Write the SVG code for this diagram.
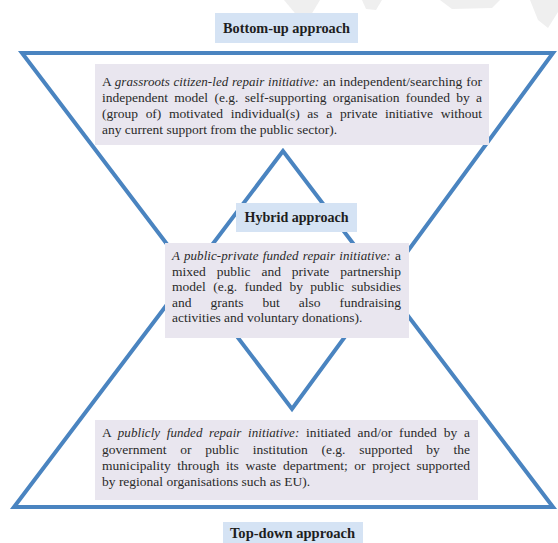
<svg xmlns="http://www.w3.org/2000/svg" width="558" height="543" viewBox="0 0 558 543">
<style>
.tri{fill:none;stroke:#4a84c0;stroke-width:4;stroke-linejoin:miter}
.box{fill:#e9e6ef}
.lab{fill:#d5e3f4}
.lt{font-family:"Liberation Serif",serif;font-weight:bold;font-size:14px;fill:#1e1e1e}
.bt{font-family:"Liberation Serif",serif;font-size:13.5px;fill:#2a2a2a}
.it{font-style:italic;font-size:13px}
.wm{fill:#efefef}
</style>
<rect width="558" height="543" fill="#ffffff"/>
<g id="watermark">
<path class="wm" d="M284,0 L320,0 L311,15 L299,18 Z"/>
<path class="wm" d="M362,0 L382,0 L376,10 L366,9 Z"/>
<path class="wm" d="M440,0 L500,0 L492,8 L452,9 Z"/>
<path class="wm" d="M530,0 L558,0 L558,12 L548,28 L538,20 Z"/>
</g>
<g id="connectors">
<polygon class="tri" points="22,53 553,53 292,409"/>
<polygon class="tri" points="283,151 14,507 553,507"/>
</g>
<g id="bottom-up-label">
<rect class="lab" x="215" y="13" width="143" height="30"/>
<text class="lt" x="286.5" y="33" text-anchor="middle" textLength="127" lengthAdjust="spacingAndGlyphs">Bottom-up approach</text>
</g>
<g id="grassroots">
<rect class="box" x="95" y="64" width="394" height="81"/>
<text class="bt" x="102" y="86" word-spacing="0.3" textLength="380" lengthAdjust="spacing">A <tspan class="it">grassroots citizen-led repair initiative:</tspan> an independent/searching for</text>
<text class="bt" x="102" y="102" word-spacing="2.9" textLength="380" lengthAdjust="spacing">independent model (e.g. self-supporting organisation founded by a</text>
<text class="bt" x="102" y="118" word-spacing="4.3" textLength="380" lengthAdjust="spacing">(group of) motivated individual(s) as a private initiative without</text>
<text class="bt" x="102" y="134">any current support from the public sector).</text>
</g>
<g id="hybrid-label">
<rect class="lab" x="236" y="203" width="121" height="29"/>
<text class="lt" x="296.5" y="222" text-anchor="middle" textLength="104" lengthAdjust="spacingAndGlyphs">Hybrid approach</text>
</g>
<g id="public-private">
<rect class="box" x="165" y="243" width="244" height="95"/>
<text class="bt" x="172" y="260" word-spacing="0.8" textLength="229" lengthAdjust="spacing"><tspan class="it">A public-private funded repair initiative:</tspan> a</text>
<text class="bt" x="172" y="275.5" word-spacing="7.6" textLength="229" lengthAdjust="spacing">mixed public and private partnership</text>
<text class="bt" x="172" y="291" word-spacing="4" textLength="229" lengthAdjust="spacing">model (e.g. funded by public subsidies</text>
<text class="bt" x="172" y="306.5" word-spacing="15.6" textLength="229" lengthAdjust="spacing">and grants but also fundraising</text>
<text class="bt" x="172" y="322">activities and voluntary donations).</text>
</g>
<g id="publicly-funded">
<rect class="box" x="95" y="420" width="383" height="80"/>
<text class="bt" x="102" y="437" word-spacing="3.3" textLength="368" lengthAdjust="spacing">A <tspan class="it">publicly funded repair initiative:</tspan> initiated and/or funded by a</text>
<text class="bt" x="102" y="453.5" word-spacing="10.4" textLength="368" lengthAdjust="spacing">government or public institution (e.g. supported by the</text>
<text class="bt" x="102" y="469.5" word-spacing="3.1" textLength="368" lengthAdjust="spacing">municipality through its waste department; or project supported</text>
<text class="bt" x="102" y="485.5">by regional organisations such as EU).</text>
</g>
<g id="top-down-label">
<rect class="lab" x="223" y="522" width="140" height="26"/>
<text class="lt" x="292.5" y="538" text-anchor="middle" textLength="125" lengthAdjust="spacingAndGlyphs">Top-down approach</text>
</g>
</svg>
